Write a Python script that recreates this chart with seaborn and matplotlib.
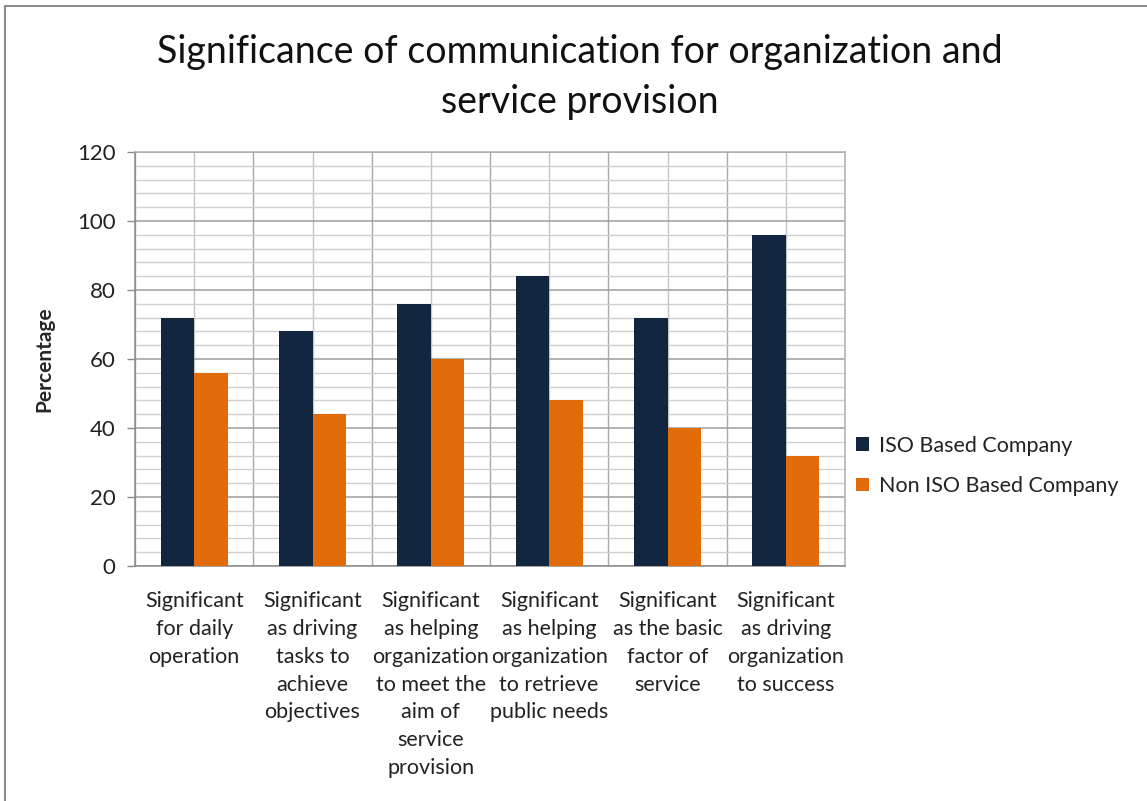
import matplotlib
matplotlib.use("Agg")
import matplotlib.pyplot as plt
import matplotlib.patches as mpatches
import numpy as np
import pandas as pd
import seaborn as sns
from matplotlib.ticker import MultipleLocator

# Survey results (percent of respondents)
categories = [
    "Significant\nfor daily\noperation",
    "Significant\nas driving\ntasks to\nachieve\nobjectives",
    "Significant\nas helping\norganization\nto meet the\naim of\nservice\nprovision",
    "Significant\nas helping\norganization\nto retrieve\npublic needs",
    "Significant\nas the basic\nfactor of\nservice",
    "Significant\nas driving\norganization\nto success",
]
iso_values = [72, 68, 76, 84, 72, 96]
non_iso_values = [56, 44, 60, 48, 40, 32]
series_names = ["ISO Based Company", "Non ISO Based Company"]
y_ticks = [0, 20, 40, 60, 80, 100, 120]

colors = ["#13263f", "#e36c0a"]

df = pd.DataFrame({
    "category": categories * 2,
    "value": iso_values + non_iso_values,
    "company": [series_names[0]] * len(categories) + [series_names[1]] * len(categories),
})

sns.set_style("white")
plt.rcParams["font.family"] = ["Lato", "DejaVu Sans"]

W, H = 1147, 801
fig = plt.figure(figsize=(W / 100, H / 100), dpi=100)
ax = fig.add_axes([135 / W, (H - 566) / H, 710 / W, 414 / H])

sns.barplot(data=df, x="category", y="value", hue="company", order=categories,
            hue_order=series_names, palette=colors, saturation=1, width=0.565,
            gap=0, ax=ax, legend=False, zorder=3, linewidth=0)

ax.set_xlim(-0.5, len(categories) - 0.5)
ax.set_ylim(0, 120)
ax.set_yticks(y_ticks)
ax.set_yticklabels([str(t) for t in y_ticks], fontsize=16, color="#222222")
ax.yaxis.set_minor_locator(MultipleLocator(4))

# gridlines: major/minor horizontal, category centers and boundaries vertical
ax.grid(True, which="major", axis="y", color="#9e9e9e", linewidth=1.1, zorder=0)
ax.grid(True, which="minor", axis="y", color="#cfcfcf", linewidth=1.0, zorder=0)
for i in range(len(categories)):
    ax.axvline(i, color="#c4c4c4", linewidth=1.0, zorder=0)
for b in np.arange(-0.5, len(categories), 1.0):
    ax.axvline(b, color="#a8a8a8", linewidth=1.0, zorder=0)

ax.set_xticks(np.arange(-0.5, len(categories), 1.0), minor=True)
ax.set_xticks(range(len(categories)))
ax.set_xticklabels(categories, fontsize=15.5, color="#222222", linespacing=1.49,
                   va="top")
ax.tick_params(axis="x", which="major", length=0, pad=18)
ax.tick_params(axis="x", which="minor", length=7, color="#8a8a8a", width=1)
ax.tick_params(axis="y", which="major", length=6, color="#8a8a8a", width=1,
               direction="out", pad=8, left=True)
ax.tick_params(axis="y", which="minor", length=0)

for side in ["left", "bottom", "top", "right"]:
    ax.spines[side].set_color("#8a8a8a")
    ax.spines[side].set_linewidth(1.1)
ax.spines["top"].set_color("#b0b0b0")
ax.spines["right"].set_color("#b0b0b0")

ax.set_xlabel("")
ax.set_ylabel("Percentage", fontsize=15, fontweight="bold", labelpad=16)

fig.text(580 / W, 1 - 77 / H,
         "Significance of communication for organization and\nservice provision",
         ha="center", va="center", fontsize=27, linespacing=1.5, color="#111111")

handles = [mpatches.Patch(facecolor=c, edgecolor="none") for c in colors]
fig.legend(handles, series_names, loc="center left",
           bbox_to_anchor=(837 / W, 1 - 466 / H), frameon=False, fontsize=15.5,
           handlelength=0.6, handleheight=0.6, handletextpad=0.45,
           labelspacing=0.95, labelcolor="#222222")

# outer chart border
fig.add_artist(mpatches.Rectangle((5 / W, -0.01), 1.02, 1 - 6 / H + 0.01,
                                  transform=fig.transFigure, fill=False,
                                  edgecolor="#8c8c8c", linewidth=1.5))

fig.savefig("out.png", dpi=100, facecolor="white")
